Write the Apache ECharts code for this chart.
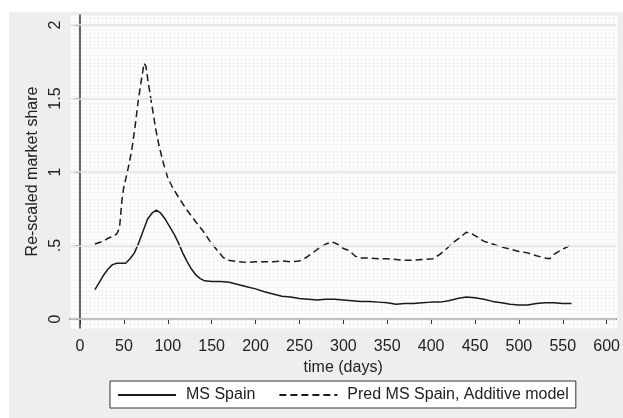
<!DOCTYPE html>
<html>
<head>
<meta charset="utf-8">
<script src="https://cdn.jsdelivr.net/npm/echarts@6/dist/echarts.min.js"></script>
<style>
  html, body { margin: 0; padding: 0; background: #fff; }
  #chart { width: 623px; height: 418px; }
</style>
</head>
<body>
<div id="chart"></div>
<script>
// values
var xTicks = [0, 50, 100, 150, 200, 250, 300, 350, 400, 450, 500, 550, 600];
var yTicks = [0, 0.5, 1, 1.5, 2];

var msDays = [17, 22, 27, 32, 37, 42, 47, 52, 57, 62, 67, 72, 77, 82, 87, 92, 97, 102, 107, 112,
  117, 122, 127, 132, 137, 142, 150, 160, 170, 180, 190, 200, 210, 220, 230, 240, 250, 260, 270,
  280, 290, 300, 310, 320, 330, 340, 350, 360, 370, 380, 390, 400, 410, 420, 430, 440, 450, 460,
  470, 480, 490, 500, 510, 520, 530, 540, 550, 560];
var msSpain = [0.20, 0.25, 0.30, 0.34, 0.37, 0.38, 0.38, 0.38, 0.41, 0.45, 0.52, 0.60, 0.68, 0.72,
  0.74, 0.72, 0.68, 0.63, 0.58, 0.52, 0.45, 0.39, 0.34, 0.30, 0.275, 0.26, 0.255, 0.255, 0.25,
  0.235, 0.22, 0.205, 0.185, 0.17, 0.155, 0.15, 0.14, 0.135, 0.13, 0.135, 0.135, 0.13, 0.125,
  0.12, 0.12, 0.115, 0.11, 0.10, 0.105, 0.105, 0.11, 0.115, 0.115, 0.125, 0.14, 0.15, 0.145,
  0.135, 0.12, 0.11, 0.10, 0.095, 0.095, 0.105, 0.11, 0.11, 0.105, 0.105];

var predDays = [17, 22, 27, 32, 37, 42, 45, 48, 50, 54, 59, 63, 66, 70, 73, 75, 78, 82, 86, 90,
  95, 100, 105, 112, 122, 132, 140, 148, 156, 163, 168, 180, 190, 200, 210, 220, 230, 240, 250,
  258, 265, 272, 280, 287, 293, 300, 307, 313, 318, 330, 340, 350, 360, 370, 380, 390, 402, 410,
  418, 425, 432, 440, 445, 452, 460, 470, 480, 490, 500, 510, 520, 530, 535, 540, 548, 555, 560];
var predSpain = [0.51, 0.52, 0.53, 0.55, 0.56, 0.58, 0.62, 0.82, 0.90, 1.00, 1.15, 1.32, 1.47,
  1.63, 1.74, 1.72, 1.60, 1.45, 1.30, 1.18, 1.06, 0.96, 0.90, 0.83, 0.74, 0.66, 0.60, 0.53, 0.47,
  0.42, 0.40, 0.39, 0.385, 0.39, 0.39, 0.39, 0.395, 0.39, 0.395, 0.42, 0.45, 0.48, 0.51, 0.525,
  0.51, 0.48, 0.465, 0.43, 0.415, 0.415, 0.41, 0.41, 0.405, 0.40, 0.40, 0.405, 0.41, 0.44, 0.48,
  0.52, 0.55, 0.59, 0.585, 0.56, 0.53, 0.51, 0.49, 0.475, 0.46, 0.45, 0.43, 0.415, 0.41, 0.44,
  0.47, 0.49, 0.515];

function pairs(xs, ys) {
  return xs.map(function (x, i) { return [x, ys[i]]; });
}

var font = 'Liberation Sans, Arial, sans-serif';
var plotBox = { left: 70, top: 15, right: 6, bottom: 90 };
var ink = '#1a1a1a';

var chart = echarts.init(document.getElementById('chart'));
chart.setOption({
  animation: false,
  backgroundColor: '#fff',
  textStyle: { fontFamily: font },
  graphic: [{
    type: 'rect', z: -10, silent: true,
    shape: { x: 9, y: 12, width: 614, height: 406 },
    style: { fill: '#eeeeee' }
  }],
  grid: [
    Object.assign({ show: true, backgroundColor: '#fff', borderWidth: 0 }, plotBox),
    Object.assign({ show: false }, plotBox)
  ],
  legend: {
    data: ['MS Spain', 'Pred MS Spain, Additive model'],
    left: 110, top: 381,
    padding: [6, 7, 5, 7],
    itemGap: 23,
    itemWidth: 58, itemHeight: 14,
    backgroundColor: '#fff',
    borderColor: '#333', borderWidth: 1,
    itemStyle: { opacity: 0 },
    textStyle: { fontSize: 16, color: '#222', padding: [0, 0, 0, 5] }
  },
  xAxis: [{
    // fine background pattern
    gridIndex: 0, type: 'value', min: 0, max: 137, interval: 1,
    axisLine: { show: false }, axisTick: { show: false }, axisLabel: { show: false },
    splitLine: { show: true, lineStyle: { color: '#f4f4f4', width: 1 } }
  }, {
    gridIndex: 1, type: 'value', min: -11.4, max: 611,
    name: 'time (days)', nameLocation: 'middle', nameGap: 26,
    nameTextStyle: { fontSize: 16, color: '#222' },
    axisLine: { show: true, lineStyle: { color: '#333', width: 1.5 } },
    axisTick: { show: true, length: 5, lineStyle: { color: '#333' }, customValues: xTicks },
    axisLabel: { fontSize: 16, color: '#222', margin: 11, customValues: xTicks },
    splitLine: { show: false }
  }],
  yAxis: [{
    gridIndex: 0, type: 'value', min: 0, max: 85, interval: 1,
    axisLine: { show: false }, axisTick: { show: false }, axisLabel: { show: false },
    splitLine: { show: true, lineStyle: { color: '#f4f4f4', width: 1 } }
  }, {
    gridIndex: 1, type: 'value', min: -0.061, max: 2.068,
    name: 'Re-scaled market share', nameLocation: 'middle', nameGap: 23, nameRotate: 90,
    nameTextStyle: { fontSize: 16, color: '#222' },
    axisLine: { show: true, lineStyle: { color: '#333', width: 1.5 } },
    axisTick: { show: true, length: 5, lineStyle: { color: '#333' }, customValues: yTicks },
    axisLabel: {
      fontSize: 16, color: '#222', margin: 6, rotate: 90, customValues: yTicks,
      formatter: function (v) { return v === 0.5 ? '.5' : String(v); }
    },
    splitLine: { show: false }
  }],
  series: [{
    name: 'grid',
    type: 'line', xAxisIndex: 1, yAxisIndex: 1, data: [], z: 1,
    markLine: {
      silent: true, symbol: 'none', label: { show: false },
      lineStyle: { color: '#e2e2e2', width: 1.5, type: 'solid' },
      data: yTicks.map(function (v) { return { yAxis: v }; })
    }
  }, {
    name: 'MS Spain',
    type: 'line', xAxisIndex: 1, yAxisIndex: 1, z: 3,
    symbol: 'none', smooth: false,
    itemStyle: { color: ink },
    lineStyle: { color: ink, width: 1.5, type: 'solid' },
    data: pairs(msDays, msSpain)
  }, {
    name: 'Pred MS Spain, Additive model',
    type: 'line', xAxisIndex: 1, yAxisIndex: 1, z: 3,
    symbol: 'none', smooth: false,
    itemStyle: { color: ink },
    lineStyle: { color: ink, width: 1.5, type: [7, 4] },
    data: pairs(predDays, predSpain)
  }]
});
</script>
</body>
</html>
